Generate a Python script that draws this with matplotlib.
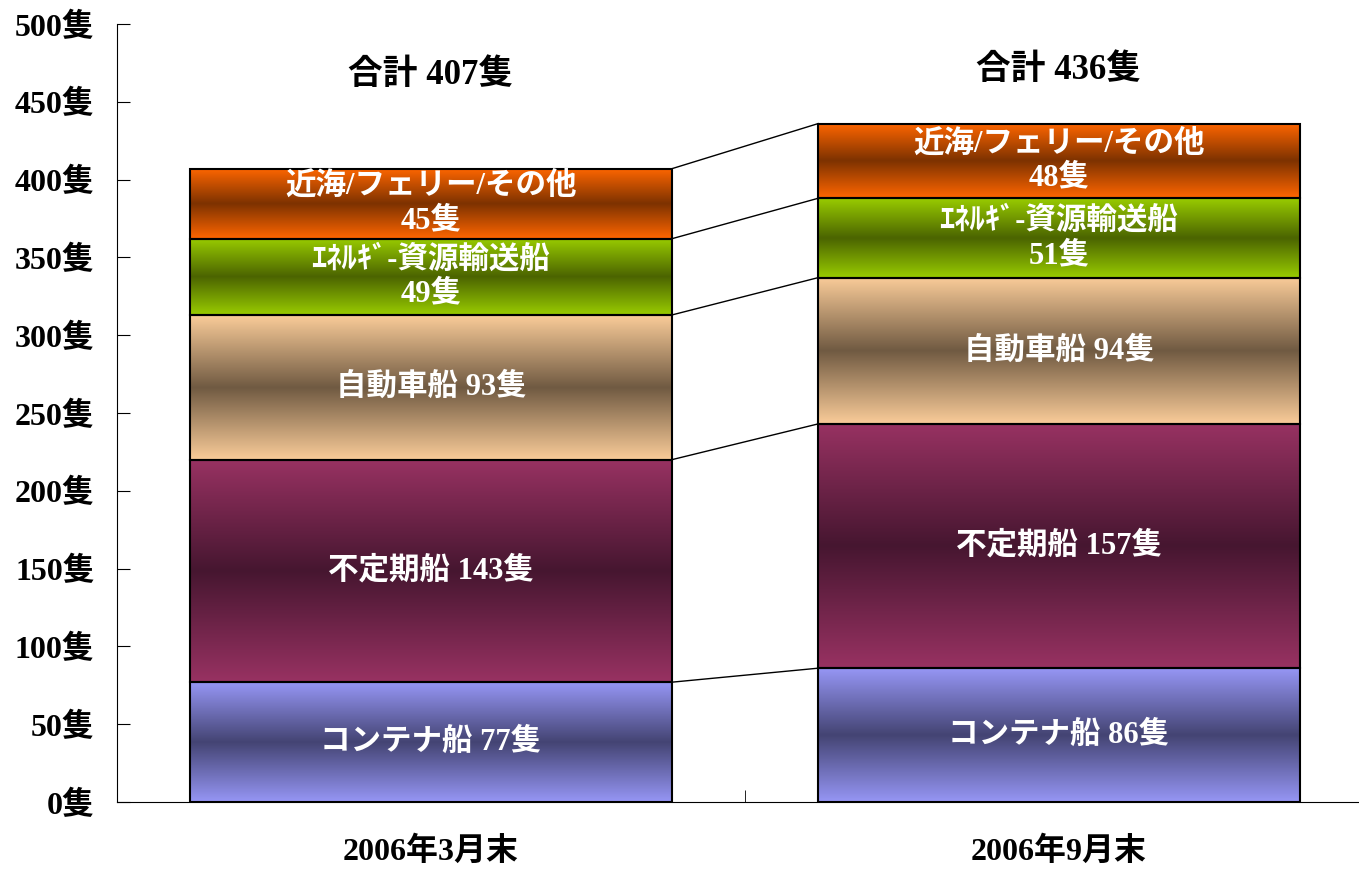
import numpy as np
import matplotlib
matplotlib.use('Agg')
import matplotlib.pyplot as plt
from matplotlib.colors import to_rgb

plt.rcParams['font.family'] = ['Liberation Serif', 'Noto Sans CJK JP', 'DejaVu Sans']
plt.rcParams['font.weight'] = 'bold'

categories = ['2006年3月末', '2006年9月末']
segment_names = ['コンテナ船', '不定期船', '自動車船', 'ｴﾈﾙｷﾞ-資源輸送船', '近海/フェリー/その他']
container = [77, 86]
tramp = [143, 157]
car = [93, 94]
energy = [49, 51]
coastal = [45, 48]
totals = [407, 436]
yticks = [0, 50, 100, 150, 200, 250, 300, 350, 400, 450, 500]

# edge colour, centre colour of each band
edge_colors = ['#9696F5', '#983262', '#FACC99', '#99CC00', '#FF6600']
center_colors = ['#444473', '#461630', '#705A42', '#4B6400', '#7D3200']
two_line = [False, False, False, True, True]

series = [container, tramp, car, energy, coastal]


def gradient(edge, center, n=256):
    s = np.linspace(0, 1, n)
    t = 1 - np.abs(2 * s - 1)
    e = np.array(to_rgb(edge))
    c = np.array(to_rgb(center))
    img = e[None, :] * (1 - t[:, None]) + c[None, :] * t[:, None]
    return img[:, None, :]


fig = plt.figure(figsize=(13.59, 8.69), dpi=100)
ax = fig.add_axes([117 / 1359, 1 - 802 / 869, 1256 / 1359, 778 / 869])

x = np.arange(len(categories))
width = 0.767
bottoms = np.zeros(len(categories))
tops_hist = []

for k, vals in enumerate(series):
    vals = np.array(vals, dtype=float)
    bars = ax.bar(x, vals, width, bottom=bottoms, facecolor='none',
                  edgecolor='black', linewidth=1.5, zorder=3)
    img = gradient(edge_colors[k], center_colors[k])
    for i, b in enumerate(bars):
        ax.imshow(img, extent=[b.get_x(), b.get_x() + b.get_width(),
                               b.get_y(), b.get_y() + b.get_height()],
                  aspect='auto', interpolation='bilinear', origin='lower', zorder=2)
        if two_line[k]:
            label = f'{segment_names[k]}\n{int(vals[i])}隻'
        else:
            label = f'{segment_names[k]} {int(vals[i])}隻'
        ax.text(x[i], bottoms[i] + vals[i] / 2, label, ha='center', va='center',
                color='white', fontsize=22, fontweight='bold', linespacing=1.25,
                zorder=5)
    bottoms = bottoms + vals
    tops_hist.append(bottoms.copy())

# connector lines between the two bars
for tops in tops_hist:
    ax.plot([x[0] + width / 2, x[1] - width / 2], [tops[0], tops[1]],
            color='black', linewidth=1, zorder=1)

title_y = [467, 470]
for i, tot in enumerate(totals):
    ax.text(x[i], title_y[i], f'合計 {tot}隻', ha='center', va='center',
            fontsize=25, fontweight='bold', color='black')

ax.set_xlim(-0.5, 1.5)
ax.set_ylim(0, 500)
ax.set_yticks(yticks)
ax.set_yticklabels([f'{v}隻' for v in yticks], fontsize=23, fontweight='bold')
ax.set_xticks(x)
ax.set_xticklabels(categories, fontsize=23, fontweight='bold')
ax.set_xticks([0.5], minor=True)
ax.tick_params(axis='x', which='major', length=0, pad=25)
ax.tick_params(axis='x', which='minor', direction='in', length=9)
ax.tick_params(axis='y', direction='in', length=9, pad=16)
ax.spines['top'].set_visible(False)
ax.spines['right'].set_visible(False)

fig.savefig('out.png', dpi=100)
